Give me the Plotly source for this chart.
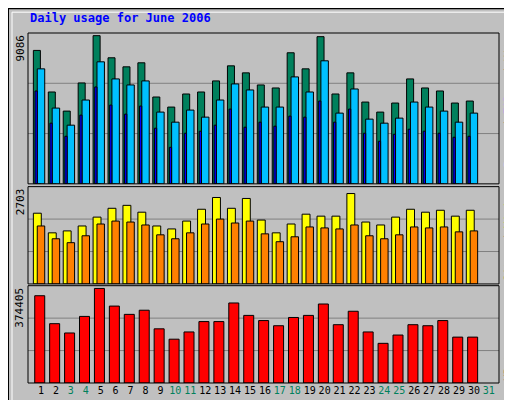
import plotly.graph_objects as go

days = list(range(1, 32))
hits = [8182,5633,4461,6188,9086,7730,7175,7422,5325,4708,5510,5633,6312,7237,6805,6065,5880,8038,7052,9025,5510,6805,5016,4400,4955,6435,5880,5695,4955,5078,None]
files = [7052,4646,3598,5140,7483,6435,6065,6312,4400,3783,4523,4091,5140,6127,5757,4708,4708,6558,5633,7545,4338,5818,3968,3721,4030,5016,4708,4461,3783,4338,None]
pages = [5695,3721,2919,4215,5942,4831,4276,4770,3413,2241,3104,3228,3598,4585,3474,3783,3536,4153,4091,5078,3783,4585,3104,2611,3043,3351,3228,3104,2858,2919,None]
visits = [2115,1528,1586,1733,1998,2262,2350,2145,1733,1645,1880,2233,2585,2262,2556,1910,1528,1792,2086,2027,2027,2703,1851,1763,1998,2233,2145,2203,2027,2203,None]
sites = [1733,1351,1234,1440,1792,1880,1851,1763,1469,1351,1528,1792,1939,1822,1880,1498,1263,1410,1704,1675,1645,1763,1440,1351,1469,1704,1675,1704,1557,1586,None]
kbytes = [345600,235000,198100,263700,374405,304600,271800,288200,214500,173500,202200,243200,243200,316900,267700,247200,226800,259500,267700,312800,230900,284100,202200,157100,189900,230900,226800,247200,181700,181700,None]
weekend = {3,4,10,11,17,18,24,25,31}
tick_text = [f'<span style="color:{"#00805C" if d in weekend else "#000000"}">{d}</span>' for d in days]

fig = go.Figure()
ln = dict(color="black", width=1)
def bar(y, color, off, w, ya):
    fig.add_trace(go.Bar(x=days, y=y, offset=off, width=w, marker=dict(color=color, line=ln),
                         yaxis=ya, xaxis="x", showlegend=False))
bar(hits, "#00805C", -0.51, 0.47, "y")
bar(files, "#00C0FF", -0.25, 0.5, "y")
bar(pages, "#0000FF", -0.40, 0.15, "y")
bar(visits, "#FFFF00", -0.51, 0.53, "y2")
bar(sites, "#FF8000", -0.25, 0.5, "y2")
bar(kbytes, "#FF0000", -0.42, 0.67, "y3")

mono = "DejaVu Sans Mono"
common = dict(showgrid=False, zeroline=False, showticklabels=False, fixedrange=True)
fig.update_layout(
    width=512, height=400, margin=dict(l=20, r=21, t=25, b=22),
    paper_bgcolor="#C0C0C0", plot_bgcolor="#C0C0C0", barmode="overlay",
    xaxis=dict(range=[0.13, 31.68], tickvals=days, ticktext=tick_text, showgrid=False, zeroline=False,
               tickfont=dict(family=mono, size=10), tickangle=0, ticks="", ticklen=0, anchor="y3"),
    yaxis=dict(domain=[0.569, 1], range=[0, 9250], **common),
    yaxis2=dict(domain=[0.283, 0.561], range=[0, 2909], **common),
    yaxis3=dict(domain=[0, 0.278], range=[0, 385300], **common),
    font=dict(family=mono),
)
shapes = []
for ya in ("y", "y2", "y3"):
    for f in (1/3, 2/3):
        shapes.append(dict(type="line", xref="x domain", yref=f"{ya} domain", x0=0, x1=1, y0=f, y1=f,
                           line=dict(color="#808080", width=1), layer="below"))
    shapes.append(dict(type="rect", xref="x domain", yref=f"{ya} domain", x0=0, x1=1, y0=0, y1=1,
                       line=dict(color="black", width=1)))
shapes.append(dict(type="rect", xref="paper", yref="paper", x0=-20/471, x1=1+21/471, y0=-22/353, y1=1+25/353,
                   line=dict(color="black", width=2)))
shapes.append(dict(type="rect", xref="paper", yref="paper", x0=-16/471, x1=1+17/471, y0=-18/353, y1=1+21/353,
                   line=dict(color="white", width=1)))
fig.update_layout(shapes=shapes)

def vlab(text, x, y, ya):
    return dict(text=text, x=x, y=y, xref="paper", yref="paper", xanchor="center", yanchor=ya,
                textangle=-90, showarrow=False, font=dict(size=11, family=mono, color="black"))
L = -8/471
R = 1 + 9/471
ann = [
    dict(text="<b>Daily usage for June 2006</b>", x=0, y=1.043, xref="paper", yref="paper", xanchor="left",
         yanchor="middle", showarrow=False, font=dict(color="#0000FF", size=12, family=mono)),
    vlab("9086", L, 1, "top"),
    vlab("2703", L, 0.561, "top"),
    vlab("374405", L, 0.278, "top"),
    vlab('<span style="color:#00C0FF">Pages</span> / <span style="color:#0000FF">Files</span> / <span style="color:#00805C">Hits</span>', R, 1, "top"),
    vlab('<span style="color:#FF8000">Sites</span> / <span style="color:#FFFF00">Visits</span>', R, 0.561, "top"),
    vlab('<span style="color:#FF0000">KBytes</span>', R, 0, "bottom"),
]
fig.update_layout(annotations=ann)
fig.write_html("out.html", config={"displayModeBar": False})
